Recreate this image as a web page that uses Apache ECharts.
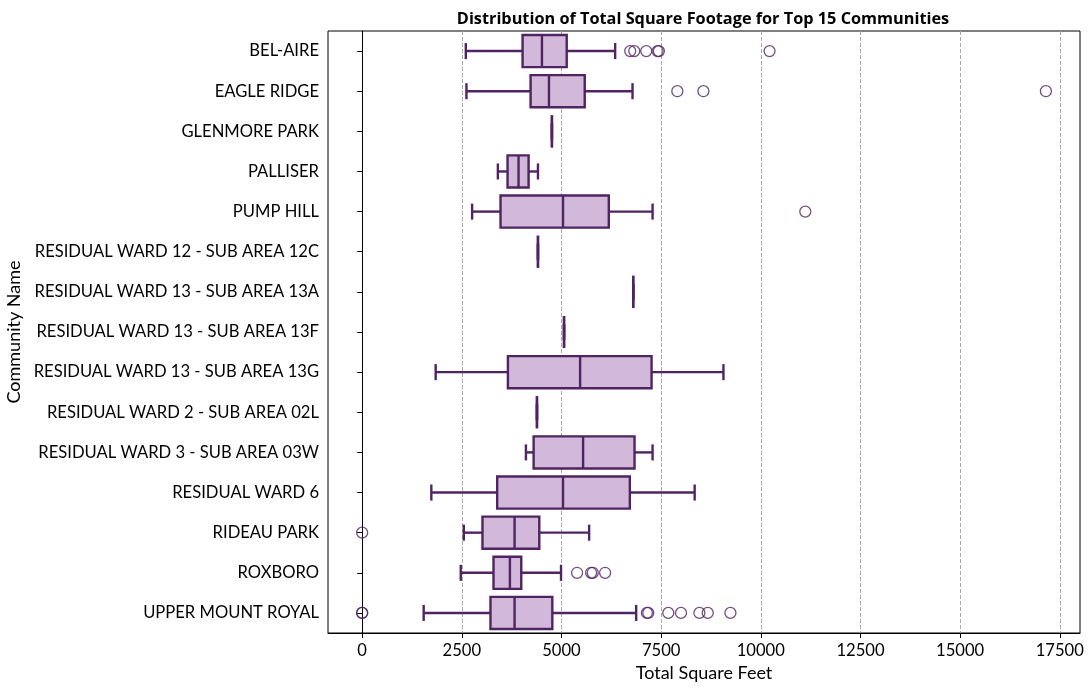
<!DOCTYPE html>
<html>
<head>
<meta charset="utf-8">
<script src="https://cdn.jsdelivr.net/npm/echarts@6/dist/echarts.min.js"></script>
<style>html,body{margin:0;padding:0;background:#fff}#c{width:1092px;height:690px}</style>
</head>
<body>
<div id="c"></div>
<script>
const categories = ['BEL-AIRE','EAGLE RIDGE','GLENMORE PARK','PALLISER','PUMP HILL',
  'RESIDUAL WARD 12 - SUB AREA 12C','RESIDUAL WARD 13 - SUB AREA 13A','RESIDUAL WARD 13 - SUB AREA 13F',
  'RESIDUAL WARD 13 - SUB AREA 13G','RESIDUAL WARD 2 - SUB AREA 02L','RESIDUAL WARD 3 - SUB AREA 03W',
  'RESIDUAL WARD 6','RIDEAU PARK','ROXBORO','UPPER MOUNT ROYAL'];
const whiskLow  = [2600, 2616, 4760, 3404, 2758, 4410, 6800, 5064, 1844, 4385, 4108, 1735, 2549, 2473, 1543];
const q1        = [4024, 4225, 4760, 3647, 3471, 4410, 6800, 5064, 3656, 4385, 4301, 3387, 3018, 3295, 3219];
const median    = [4510, 4686, 4760, 3923, 5038, 4410, 6800, 5064, 5467, 4385, 5542, 5038, 3823, 3706, 3823];
const q3        = [5131, 5583, 4760, 4175, 6187, 4410, 6800, 5064, 7260, 4385, 6832, 6715, 4443, 3991, 4770];
const whiskHigh = [6346, 6782, 4760, 4410, 7285, 4410, 6800, 5064, 9063, 4385, 7285, 8341, 5693, 4988, 6874];
const outliers = {
  'BEL-AIRE': [6724, 6826, 7126, 7410, 7444, 10219],
  'EAGLE RIDGE': [7906, 8560, 17152],
  'PUMP HILL': [11116],
  'RIDEAU PARK': [0],
  'ROXBORO': [5391, 5743, 5785, 6094],
  'UPPER MOUNT ROYAL': [0, 0, 7143, 7176, 7679, 7998, 8460, 8669, 9238]
};
const xTicks = [0, 2500, 5000, 7500, 10000, 12500, 15000, 17500];

const LINE = '#502462';
const FILL = '#d2b9da';
const FONT = 'Lato';
const LW = 2.4;

const boxData = categories.map((c, i) => [i, whiskLow[i], q1[i], median[i], q3[i], whiskHigh[i]]);
const outlierData = [];
Object.keys(outliers).forEach(k => outliers[k].forEach(v => outlierData.push([v, k])));

function renderBox(params, api) {
  const i = api.value(0);
  const band = api.size([0, 1])[1];
  const bh = band * 0.8, ch = band * 0.4;
  const pLow = api.coord([api.value(1), i]);
  const pQ1 = api.coord([api.value(2), i]);
  const pMed = api.coord([api.value(3), i]);
  const pQ3 = api.coord([api.value(4), i]);
  const pHigh = api.coord([api.value(5), i]);
  const y = pMed[1];
  const st = {stroke: LINE, lineWidth: LW, fill: null};
  return {
    type: 'group',
    children: [
      {type: 'line', shape: {x1: pLow[0], y1: y, x2: pQ1[0], y2: y}, style: st},
      {type: 'line', shape: {x1: pQ3[0], y1: y, x2: pHigh[0], y2: y}, style: st},
      {type: 'line', shape: {x1: pLow[0], y1: y - ch / 2, x2: pLow[0], y2: y + ch / 2}, style: st},
      {type: 'line', shape: {x1: pHigh[0], y1: y - ch / 2, x2: pHigh[0], y2: y + ch / 2}, style: st},
      {type: 'rect', shape: {x: pQ1[0], y: y - bh / 2, width: pQ3[0] - pQ1[0], height: bh},
        style: {stroke: LINE, lineWidth: LW, fill: FILL}},
      {type: 'line', shape: {x1: pMed[0], y1: y - bh / 2, x2: pMed[0], y2: y + bh / 2}, style: st}
    ]
  };
}

const chart = echarts.init(document.getElementById('c'), null, {renderer: 'canvas'});
chart.setOption({
  animation: false,
  backgroundColor: '#fff',
  title: {
    text: 'Distribution of Total Square Footage for Top 15 Communities',
    left: 698, textAlign: 'center', top: 6,
    textStyle: {fontFamily: 'Open Sans', fontSize: 16.3, fontWeight: 'bold', color: '#000'}
  },
  grid: {left: 328, right: 12, top: 31, bottom: 57, outerBoundsMode: 'none', containLabel: false,
    show: true, borderColor: '#000', borderWidth: 1, backgroundColor: 'transparent'},
  xAxis: {
    type: 'value', min: -857, max: 18007,
    name: 'Total Square Feet', nameLocation: 'middle', nameGap: 29,
    nameTextStyle: {fontFamily: FONT, fontSize: 18, color: '#000'},
    axisLine: {show: true, lineStyle: {color: '#000'}},
    axisTick: {show: true, length: 5, customValues: xTicks, lineStyle: {color: '#000'}},
    axisLabel: {customValues: xTicks, margin: 9, fontFamily: FONT, fontSize: 16.6, color: '#000',
      formatter: v => String(v)},
    splitLine: {show: true, lineStyle: {color: '#aaaaaa', type: [4, 2], width: 1}}
  },
  yAxis: {
    type: 'category', data: categories, inverse: true,
    name: 'Community Name', nameLocation: 'middle', nameGap: 302, nameRotate: 90,
    nameTextStyle: {fontFamily: FONT, fontSize: 18, color: '#000'},
    axisLine: {show: true, lineStyle: {color: '#000'}},
    axisTick: {show: true, alignWithLabel: true, length: 5, lineStyle: {color: '#000'}},
    axisLabel: {margin: 9, fontFamily: FONT, fontSize: 16.6, color: '#000'},
    splitLine: {show: false}
  },
  series: [
    {type: 'custom', renderItem: renderBox, data: boxData, encode: {x: [1, 2, 3, 4, 5], y: 0}, z: 3, silent: true},
    {type: 'scatter', data: outlierData, symbol: 'circle', symbolSize: 11, z: 4, silent: true,
      itemStyle: {color: 'rgba(0,0,0,0)', borderColor: LINE, borderWidth: 1.3}}
  ]
});
</script>
</body>
</html>
